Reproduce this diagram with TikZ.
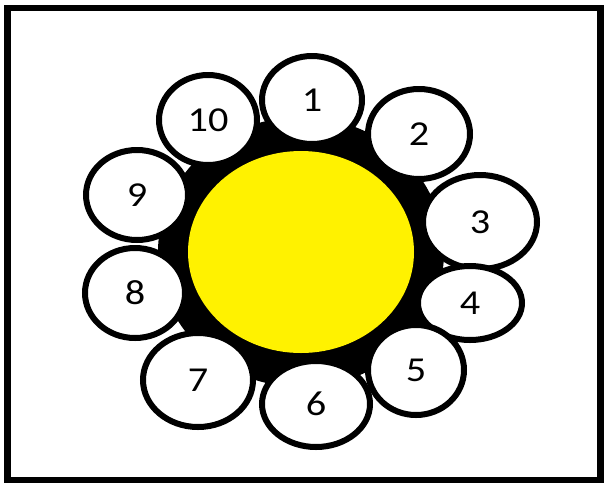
\documentclass[tikz,border=0pt]{standalone}
\usepackage{fontspec}
\setmainfont{Carlito}
\newfontfamily\petalfont[FakeStretch=1.15]{Carlito}
\usetikzlibrary{shapes.geometric}
\definecolor{sunyellow}{RGB}{255,242,0}
\tikzstyle{petal} = [ellipse, draw=black, line width=6pt, fill=white,
    inner sep=0pt, font=\petalfont\fontsize{35}{35}\selectfont]
\tikzstyle{petal-lens} = [fill=black]
\tikzstyle{frame-box} = [draw=black, line width=6.5pt]

\begin{document}
\begin{tikzpicture}[x=1pt, y=-1pt]
\useasboundingbox (0,0) rectangle (605,483);
\node [frame-box, minimum width=593pt, minimum height=472pt] (frame) at (304,244) {};
\node [ellipse, fill=black, minimum width=286pt, minimum height=270pt] (ring) at (301,252) {};
\node [petal, minimum width=100pt, minimum height=88pt] (p1) at (312,100) {1};
\node [petal, minimum width=102pt, minimum height=90pt] (p2) at (419,134) {2};
\node [petal, minimum width=114pt, minimum height=94pt] (p3) at (480,222) {3};
\node [petal, minimum width=104pt, minimum height=74pt] (p4) at (470,303) {4};
\node [petal, minimum width=96pt, minimum height=90pt] (p5) at (416,370) {5};
\node [petal, minimum width=108pt, minimum height=86pt] (p6) at (316,404) {6};
\node [petal, minimum width=110pt, minimum height=94pt] (p7) at (198,380) {7};
\node [petal, minimum width=100pt, minimum height=90pt] (p8) at (135,293) {8};
\node [petal, minimum width=102pt, minimum height=90pt] (p9) at (137,195) {9};
\node [petal, minimum width=98pt, minimum height=90pt] (p10) at (208,120) {10};
\begin{scope}
  \clip (p3.center) ellipse [x radius=57pt, y radius=47pt];
  \fill [petal-lens] (p4.center) ellipse [x radius=52pt, y radius=37pt];
\end{scope}
\begin{scope}
  \clip (p5.center) ellipse [x radius=48pt, y radius=45pt];
  \fill [petal-lens] (p4.center) ellipse [x radius=52pt, y radius=37pt];
\end{scope}
\node [ellipse, fill=sunyellow, minimum width=226pt, minimum height=202pt] (sun) at (ring.center) {};
\end{tikzpicture}
\end{document}
